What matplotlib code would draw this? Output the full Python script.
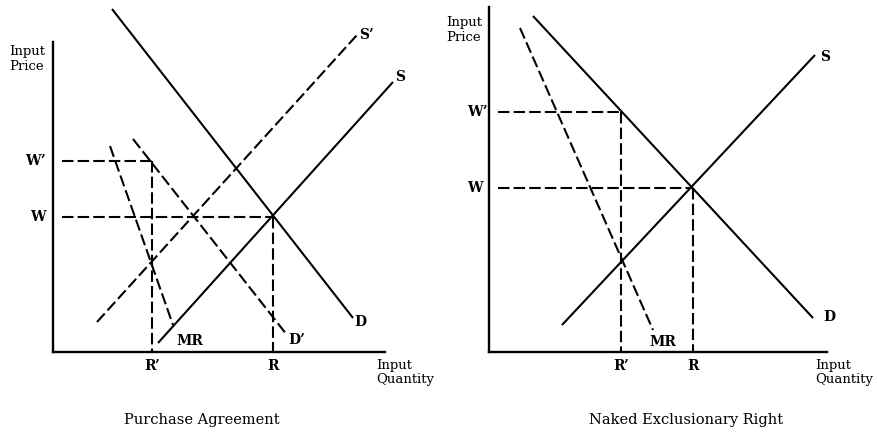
import matplotlib
matplotlib.use("Agg")
import matplotlib.pyplot as plt

plt.rcParams['font.family'] = ['DejaVu Serif']

W_PX, H_PX = 878, 438

# ---------------- Panel 1: Purchase Agreement (quantity, price) ----------------
pa_D = [(59, 343), (300, 34)]
pa_S = [(105, 9), (340, 270)]
pa_S2 = [(44, 30), (304, 317)]
pa_D2 = [(80, 213), (234, 17)]
pa_MR = [(57, 206), (120, 27)]
pa_W, pa_R = 135, 220
pa_W2, pa_R2 = 191, 99
pa_xlim, pa_ylim = 332, 310

# ---------------- Panel 2: Naked Exclusionary Right ----------------
ne_D = [(44, 336), (324, 34)]
ne_S = [(73, 27), (326, 297)]
ne_MR = [(31, 324), (164, 22)]
ne_W, ne_R = 164, 204
ne_W2, ne_R2 = 240, 132
ne_xlim, ne_ylim = 338, 345

fig = plt.figure(figsize=(W_PX / 100, H_PX / 100), dpi=100)
fig.patch.set_facecolor('white')

def make_axes(x0, ytop, w, h):
    ax = fig.add_axes([x0 / W_PX, (H_PX - ytop - h) / H_PX, w / W_PX, h / H_PX])
    ax.set_xlim(0, w)
    ax.set_ylim(0, h)
    for s in ['top', 'right']:
        ax.spines[s].set_visible(False)
    for s in ['left', 'bottom']:
        ax.spines[s].set_linewidth(1.7)
        ax.spines[s].set_color('black')
    ax.set_xticks([])
    ax.set_yticks([])
    ax.patch.set_alpha(0)
    return ax

LW = 1.5
DASH = (5.5, 2.0)

def solid(ax, seg):
    (x0, y0), (x1, y1) = seg
    ax.plot([x0, x1], [y0, y1], color='black', lw=LW, clip_on=False, solid_capstyle='butt')

def dashed(ax, seg):
    (x0, y0), (x1, y1) = seg
    ax.plot([x0, x1], [y0, y1], color='black', lw=LW, clip_on=False, dashes=DASH)

LBL = dict(fontsize=10, fontweight='bold', color='black', clip_on=False)
AXL = dict(fontsize=9.5, color='black', linespacing=1.15, clip_on=False)
TTL = dict(fontsize=10.5, color='black', clip_on=False, ha='center', va='center')

# Panel 1
ax1 = make_axes(53, 42, pa_xlim, pa_ylim)
solid(ax1, pa_D)
solid(ax1, pa_S)
dashed(ax1, pa_S2)
dashed(ax1, pa_D2)
dashed(ax1, pa_MR)
dashed(ax1, [(9, pa_W2), (pa_R2, pa_W2)])
dashed(ax1, [(pa_R2, pa_W2), (pa_R2, 0)])
dashed(ax1, [(9, pa_W), (pa_R, pa_W)])
dashed(ax1, [(pa_R, pa_W), (pa_R, 0)])
ax1.text(-44, 293, 'Input\nPrice', ha='left', va='center', **AXL)
ax1.text(-18, pa_W2, 'W\u2019', ha='center', va='center', **LBL)
ax1.text(-15, pa_W, 'W', ha='center', va='center', **LBL)
ax1.text(pa_R2, -7, 'R\u2019', ha='center', va='top', **LBL)
ax1.text(pa_R, -7, 'R', ha='center', va='top', **LBL)
ax1.text(323, -7, 'Input\nQuantity', ha='left', va='top', **AXL)
ax1.text(306, 317, 'S\u2019', ha='left', va='center', **LBL)
ax1.text(342, 275, 'S', ha='left', va='center', **LBL)
ax1.text(301, 30, 'D', ha='left', va='center', **LBL)
ax1.text(235, 12, 'D\u2019', ha='left', va='center', **LBL)
ax1.text(123, 11, 'MR', ha='left', va='center', **LBL)
ax1.text(149, -68, 'Purchase Agreement', **TTL)

# Panel 2
ax2 = make_axes(489, 7, ne_xlim, ne_ylim)
solid(ax2, ne_D)
solid(ax2, ne_S)
dashed(ax2, ne_MR)
dashed(ax2, [(9, ne_W2), (ne_R2, ne_W2)])
dashed(ax2, [(ne_R2, ne_W2), (ne_R2, 0)])
dashed(ax2, [(9, ne_W), (ne_R, ne_W)])
dashed(ax2, [(ne_R, ne_W), (ne_R, 0)])
ax2.text(-43, 322, 'Input\nPrice', ha='left', va='center', **AXL)
ax2.text(-12, ne_W2, 'W\u2019', ha='center', va='center', **LBL)
ax2.text(-14, ne_W, 'W', ha='center', va='center', **LBL)
ax2.text(ne_R2, -7, 'R\u2019', ha='center', va='top', **LBL)
ax2.text(ne_R, -7, 'R', ha='center', va='top', **LBL)
ax2.text(326, -7, 'Input\nQuantity', ha='left', va='top', **AXL)
ax2.text(331, 295, 'S', ha='left', va='center', **LBL)
ax2.text(334, 35, 'D', ha='left', va='center', **LBL)
ax2.text(160, 10, 'MR', ha='left', va='center', **LBL)
ax2.text(197, -68, 'Naked Exclusionary Right', **TTL)

fig.savefig('out.png', dpi=100, facecolor='white')
